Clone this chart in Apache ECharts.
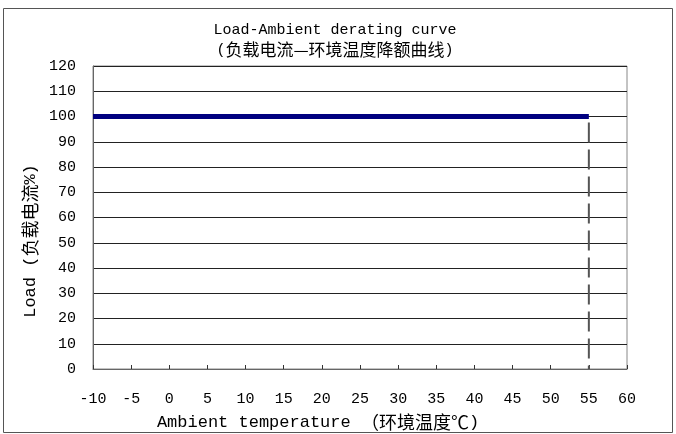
<!DOCTYPE html>
<html><head><meta charset="utf-8">
<script src="https://cdn.jsdelivr.net/npm/echarts@6/dist/echarts.min.js"></script>
<style>html,body{margin:0;padding:0;background:#fff}#c{width:676px;height:434px}</style>
</head><body><div id="c"></div>
<script>
const temps = [-10, 55];
const loads = [100, 100];
const cutoffTemps = [55, 55];
const cutoffLoads = [100, 0];
const xTicks = {min: -10, max: 60, step: 5};
const yTicks = {min: 0, max: 120, step: 10};
const titleLines = ['Load-Ambient derating curve', '(负载电流—环境温度降额曲线)'];
const xName = 'Ambient temperature （环境温度℃)';
const yName = 'Load (负载电流%)';

const LATIN = '"Liberation Mono","DejaVu Sans Mono",monospace';
const CJK = '"Noto Sans CJK SC","Noto Sans CJK JP",sans-serif';

// split a string into latin / cjk runs for rich text
function toRich(str, prefix) {
  const re = /[\u2014\u2100-\u214F\u3000-\u9FFF\uFF00-\uFFEF]+/g;
  let out = '', last = 0, m;
  while ((m = re.exec(str)) !== null) {
    if (m.index > last) out += '{' + prefix + 'l|' + str.slice(last, m.index) + '}';
    out += '{' + prefix + 'c|' + m[0] + '}';
    last = m.index + m[0].length;
  }
  if (last < str.length) out += '{' + prefix + 'l|' + str.slice(last) + '}';
  return out;
}
function richStyles(prefix, latinSize, cjkSize, lh) {
  const r = {};
  r[prefix + 'l'] = {fontFamily: LATIN, fontSize: latinSize, color: '#000', lineHeight: lh};
  r[prefix + 'c'] = {fontFamily: CJK, fontSize: cjkSize, color: '#000', lineHeight: lh};
  return r;
}

const chart = echarts.init(document.getElementById('c'), null, {renderer: 'canvas'});
chart.setOption({
  animation: false,
  backgroundColor: '#fff',
  graphic: [
    {type: 'rect', shape: {x: 3.5, y: 8.5, width: 669, height: 424}, style: {fill: 'none', stroke: '#555', lineWidth: 1}, silent: true},
    {type: 'text', x: 318, y: 422, silent: true,
     style: {text: toRich(xName, 'x'), rich: richStyles('x', 17, 18, 20), align: 'center', verticalAlign: 'middle'}},
    {type: 'text', x: 30, y: 241, rotation: Math.PI / 2, silent: true,
     style: {text: toRich(yName, 'y'), rich: richStyles('y', 17, 18, 20), align: 'center', verticalAlign: 'middle'}}
  ],
  title: [
    {text: titleLines.map(s => toRich(s, 't')).join('\n'), left: 330, top: 15, textAlign: 'center',
     textStyle: {fontWeight: 'normal', color: '#000', rich: richStyles('t', 15, 17, 20)}}
  ],
  grid: {left: 93, right: 49, top: 66, bottom: 65, show: true, borderColor: '#888', borderWidth: 1, backgroundColor: '#fff'},
  xAxis: {
    type: 'value', min: xTicks.min, max: xTicks.max, interval: xTicks.step,
    axisLine: {show: true, onZero: false, lineStyle: {color: '#666', width: 1}},
    axisTick: {show: true, inside: true, length: 4, lineStyle: {color: '#333'}},
    axisLabel: {fontFamily: LATIN, fontSize: 15, color: '#000', margin: 23},
    splitLine: {show: false}
  },
  yAxis: {
    type: 'value', min: yTicks.min, max: yTicks.max, interval: yTicks.step,
    axisLine: {show: true, onZero: false, lineStyle: {color: '#666', width: 1}},
    axisTick: {show: false},
    axisLabel: {fontFamily: LATIN, fontSize: 15, color: '#000', margin: 17},
    splitLine: {show: true, lineStyle: {color: '#222', width: 1}}
  },
  series: [
    {type: 'line', data: temps.map((t, i) => [t, loads[i]]), symbol: 'none',
     lineStyle: {color: '#000080', width: 5}, z: 5},
    {type: 'line', data: cutoffTemps.map((t, i) => [t, cutoffLoads[i]]), symbol: 'none',
     lineStyle: {color: '#555', width: 2, type: [20, 7], dashOffset: -6}, z: 4}
  ]
});
</script></body></html>
